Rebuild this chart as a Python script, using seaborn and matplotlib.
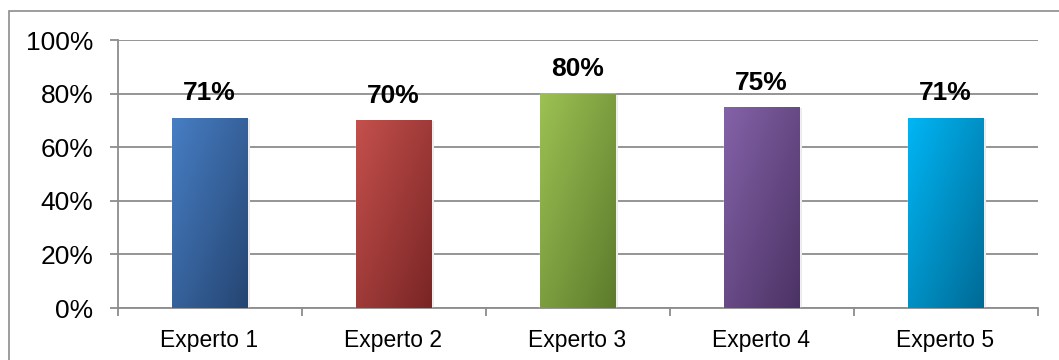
import numpy as np
import pandas as pd
import matplotlib
matplotlib.use("Agg")
import matplotlib.pyplot as plt
import seaborn as sns
from matplotlib.ticker import PercentFormatter, FixedLocator
from matplotlib.patches import Rectangle
from matplotlib.colors import to_rgb

categories = ["Experto 1", "Experto 2", "Experto 3", "Experto 4", "Experto 5"]
values = [0.71, 0.70, 0.80, 0.75, 0.71]
labels = ["71%", "70%", "80%", "75%", "71%"]
light_colors = ["#477ec4", "#c4504c", "#9dc153", "#8462a8", "#00b6f5"]
dark_colors = ["#254572", "#792525", "#5d7b2c", "#4b3264", "#006a95"]

sns.set_theme(style="white")
plt.rcParams["font.family"] = ["Liberation Sans", "DejaVu Sans"]

fig = plt.figure(figsize=(10.59, 3.60), dpi=100)
ax = fig.add_axes([117.5 / 1059, 1 - 308 / 360, (1037.5 - 117.5) / 1059, (308 - 40) / 360])

df = pd.DataFrame({"cat": categories, "val": values})
sns.barplot(data=df, x="cat", y="val", hue="cat", palette=light_colors,
            legend=False, width=0.41, ax=ax, saturation=1, zorder=3)

ax.set_xlim(-0.5, len(categories) - 0.5)
ax.set_ylim(0, 1.0)

# gradient fill for each bar
ny, nx = 100, 60
yy, xx = np.mgrid[0:1:ny * 1j, 0:1:nx * 1j]
t = np.clip((xx * 0.6 + yy * 0.6) / 1.2, 0, 1)
for patch, lc, dc in zip(ax.patches, light_colors, dark_colors):
    x0, y0 = patch.get_x(), patch.get_y()
    w, h = patch.get_width(), patch.get_height()
    c1, c2 = np.array(to_rgb(lc)), np.array(to_rgb(dc))
    img = c1[None, None, :] * (1 - t[..., None]) + c2[None, None, :] * t[..., None]
    # soft shadow
    sh = Rectangle((x0 + 0.01, y0), w + 0.004, h - 0.004, facecolor="#ececec",
                   edgecolor="none", zorder=2.5)
    ax.add_patch(sh)
    im = ax.imshow(img, extent=(x0, x0 + w, y0, y0 + h), origin="upper",
                   aspect="auto", interpolation="bilinear", zorder=3.5)
    im.set_clip_path(patch)

ax.set_xlim(-0.5, len(categories) - 0.5)
ax.set_ylim(0, 1.0)

for i, (v, lab) in enumerate(zip(values, labels)):
    ax.annotate(lab, (i, v), xytext=(0, 9), textcoords="offset points",
                ha="center", va="bottom", fontsize=19, fontweight="bold",
                color="black", zorder=5)

ax.yaxis.set_major_locator(FixedLocator([0, 0.2, 0.4, 0.6, 0.8, 1.0]))
ax.yaxis.set_major_formatter(PercentFormatter(1.0, decimals=0))
ax.yaxis.grid(True, color="#8c8c8c", linewidth=1.3, zorder=0)
ax.set_axisbelow(True)
ax.set_xlabel("")
ax.set_ylabel("")

for s in ["top", "right"]:
    ax.spines[s].set_visible(False)
for s in ["left", "bottom"]:
    ax.spines[s].set_color("#8c8c8c")
    ax.spines[s].set_linewidth(1.3)

ax.tick_params(axis="y", which="major", left=True, length=6, width=1.3,
               color="#8c8c8c", labelsize=19, pad=11.5, labelcolor="black")
ax.tick_params(axis="x", which="major", bottom=False, labelsize=16.5, pad=9,
               labelcolor="black")
ax.xaxis.set_minor_locator(FixedLocator(np.arange(-0.5, len(categories), 1.0)))
ax.tick_params(axis="x", which="minor", bottom=True, length=6, width=1.3,
               color="#8c8c8c")

# outer chart border
fig.patches.append(Rectangle((8.5 / 1059, -0.2), 1.2, (360 - 10.5) / 360 + 0.2,
                             transform=fig.transFigure, fill=False,
                             edgecolor="#8c8c8c", linewidth=1.2, zorder=0))

fig.savefig("out.png", dpi=100)
